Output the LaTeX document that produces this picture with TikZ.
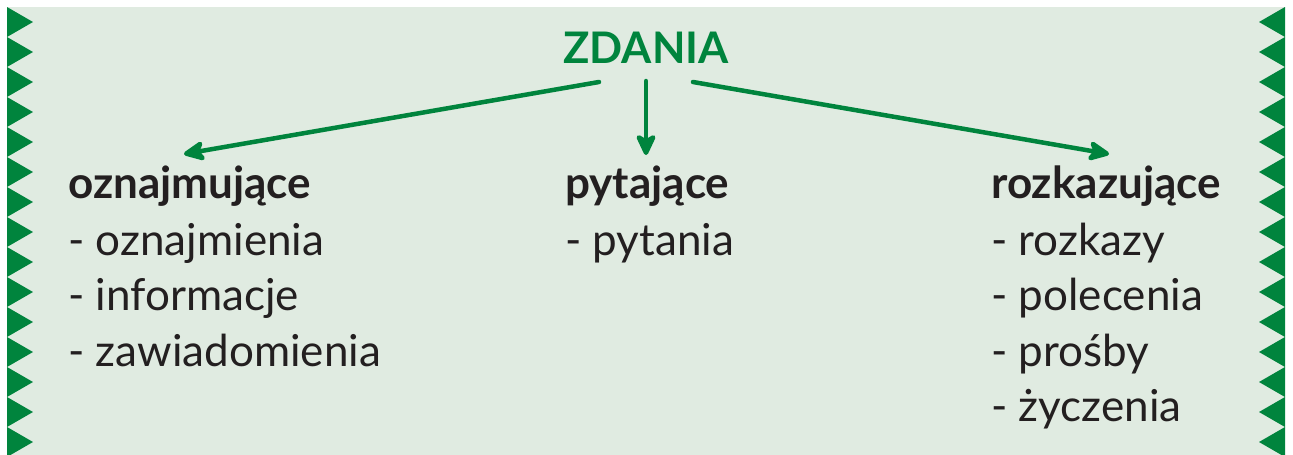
\documentclass[tikz,border=0pt]{standalone}
\usepackage{fontspec}
\setmainfont{Lato}
\usetikzlibrary{arrows.meta}
\definecolor{bgc}{HTML}{E0EBE1}
\definecolor{grn}{HTML}{00843D}
\definecolor{ink}{HTML}{231F20}
\tikzset{
  title/.style={anchor=base, inner sep=0pt, text=grn, font=\fontsize{43.5}{43.5}\selectfont\bfseries},
  head/.style={anchor=base west, inner sep=0pt, text=ink, font=\fontsize{44}{44}\selectfont\bfseries},
  item/.style={anchor=base west, inner sep=0pt, text=ink, font=\fontsize{44}{44}\selectfont},
  conn/.style={draw=grn, line width=4.5pt, line cap=round, -{Stealth[length=26pt, width=24pt, inset=7pt, round=false]}},
  tooth/.style={fill=grn}
}
\begin{document}
\begin{tikzpicture}[x=1pt,y=-1pt]
\useasboundingbox (0,0) rectangle (1293,455);
\fill[white] (0,0) rectangle (1293,455);
\fill[bgc] (7,7) rectangle (1285,455);
\begin{scope}
\clip (0,7) rectangle (1293,455);
\foreach \k in {0,...,14}{
  \fill[tooth] (7,7+30*\k) -- (33,22+30*\k) -- (7,37+30*\k) -- cycle;
  \fill[tooth] (1285,7+30*\k) -- (1259,22+30*\k) -- (1285,37+30*\k) -- cycle;
}
\end{scope}
\node[title] (zdania) at (646,63) {ZDANIA};
\node[head] (h1) at (68,198) {oznajmujące};
\node[head] (h2) at (565,198) {pytające};
\node[head] (h3) at (991,198) {rozkazujące};
\node[item] (a1) at (68,255) {- oznajmienia};
\node[item] (a2) at (68,310.5) {- informacje};
\node[item] (a3) at (68,366) {- zawiadomienia};
\node[item] (b1) at (565,255) {- pytania};
\node[item] (c1) at (991,255) {- rozkazy};
\node[item] (c2) at (991,310.5) {- polecenia};
\node[item] (c3) at (991,366) {- prośby};
\node[item] (c4) at (991,421.5) {- życzenia};
\coordinate (s1) at (599,82);
\coordinate (s2) at (646,81);
\coordinate (s3) at (693,82);
\coordinate (t1) at (184,154);
\coordinate (t2) at (646,155);
\coordinate (t3) at (1109,154);
\draw[conn] (s1) -- (t1);
\draw[conn] (s2) -- (t2);
\draw[conn] (s3) -- (t3);
\end{tikzpicture}
\end{document}
